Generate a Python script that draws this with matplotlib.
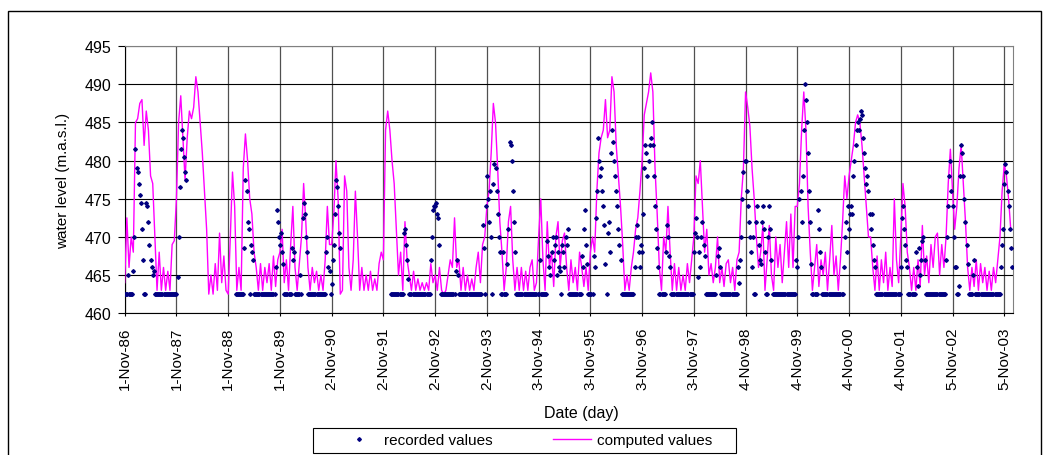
import numpy as np
import matplotlib
matplotlib.use("Agg")
import matplotlib.pyplot as plt
from matplotlib.patches import Rectangle
from matplotlib.lines import Line2D

plt.rcParams['font.family'] = ['Liberation Sans', 'DejaVu Sans']

nan = float('nan')

# tick labels (Excel axis, one tick per hydrological year)
tick_labels = ['1-Nov-86', '1-Nov-87', '1-Nov-88', '1-Nov-89', '2-Nov-90', '2-Nov-91',
               '2-Nov-92', '2-Nov-93', '3-Nov-94', '3-Nov-95', '3-Nov-96', '3-Nov-97',
               '4-Nov-98', '4-Nov-99', '4-Nov-00', '4-Nov-01', '5-Nov-02', '5-Nov-03']

# computed water level, half-monthly, one list per year starting in November
comp_86 = [464, 472.5, 466, 470, 468, 485, 485.5, 487.5, 488, 482, 486.5, 484,
           478, 477, 470, 463, 468, 463, 466, 463, 465.5, 463, 469, 469.5]
comp_87 = [475, 485, 488.5, 483, 477.5, 483, 486.5, 485.5, 487, 491, 489, 485,
           481, 476, 471, 462.5, 465, 462.5, 466.5, 463, 470.5, 464, 467.5, 463]
comp_88 = [462.5, 470, 478.5, 474, 463, 466, 463, 479, 483.5, 480, 475, 473,
           468, 466, 463, 466.5, 463, 466, 464, 466.5, 463, 467.5, 463.5, 467]
comp_89 = [468, 471, 464, 467, 463, 469, 474, 466, 463, 466.5, 470, 477,
           472, 466, 463, 466, 464, 465.5, 463, 465, 463, 467, 474, 469]
comp_90 = [469, 473, 480, 475, 462.5, 463, 478, 476, 466, 463, 467, 476,
           470, 463, 466, 463, 465, 463, 465.5, 463, 464.5, 463, 466.5, 468]
comp_91 = [467, 484, 486.5, 484, 480, 477, 471, 465, 468, 463, 472, 467,
           465, 463, 465.5, 463, 464.5, 463, 464, 463, 464, 463, 466.5, 464]
comp_92 = [465, 463, 466, 463, 462.5, 463, 465, 467, 466, 472.5, 466, 467,
           463, 466, 463, 465, 463, 464.5, 463, 466, 468, 464, 469, 470]
comp_93 = [474, 476, 481, 487.5, 485, 479, 472, 468, 463, 466, 472, 474,
           467, 463, 466, 463, 466, 463, 465.5, 463, 466, 467, 463, 464]
comp_94 = [470, 475, 467, 463, 472, 466, 468, 463.5, 470, 472, 466, 469.5,
           470.5, 466, 463, 467, 464, 466, 463, 468, 466, 463.5, 466, 463]
comp_95 = [468, 470, 468, 476, 481, 483, 484, 488, 483, 484, 491, 489,
           482, 478, 474, 469, 463, 465, 463, 466, 468, 471, 472.5, 476]
comp_96 = [480, 486, 487.5, 489, 491.5, 489, 479, 473, 466, 463, 470, 468,
           474, 468, 463, 466.5, 463, 466, 463, 465, 463, 466.5, 464, 467]
comp_97 = [470, 478, 477, 480, 474, 468, 471, 465, 466.5, 464, 466, 470,
           464, 466, 463.5, 466.5, 467, 464, 466, 463, 467, 468, 475, 479]
comp_98 = [489, 487, 484.5, 479, 475, 470, 466, 468, 471.5, 463, 467, 471.5,
           465, 463, 470, 466, 469, 464, 468, 472, 466, 473, 466, 474]
comp_99 = [474, 477, 484, 489, 484, 474, 468, 463, 466, 469, 463.5, 467,
           465, 468, 463, 467, 471.5, 465, 467.5, 463, 467, 472, 478, 475]
comp_00 = [478, 480, 482, 485, 486, 485, 482, 478, 474, 470, 470, 466,
           463, 467.5, 463, 467, 464, 468, 463, 466, 463.5, 475, 467, 464]
comp_01 = [470, 477, 474, 468, 466, 463, 466, 463, 467, 463.5, 471.5, 465,
           467.5, 464, 469, 466, 470, 470.5, 465, 469, 466, 470, 477, 481.5]
comp_02 = [476, 471, 474, 479, 482, 477, 472, 466, 463, 466, 463.5, 467,
           463, 466.5, 464, 466, 463, 465.5, 463, 466, 464, 467, 470, 476]
comp_03 = [479.5, 478, 475, 471]

# recorded water level, weekly, one list per year starting in November
rec_86 = [462.5, 462.5, 462.5, 465, 462.5, 462.5, 462.5, 462.5, 465.5, 470, 481.5, 479,
          478.5, 477, 475.5, 474.5, 471, 467, 462.5, 462.5, 474.5, 474, 472, 469,
          467, 466, 465, 465.5, 462.5, 462.5, 462.5, 462.5, 462.5, 462.5, 462.5, 462.5,
          462.5, 462.5, 462.5, 462.5, 462.5, 462.5, 462.5, 462.5, 462.5, 462.5, 462.5, 462.5]
rec_87 = [462.5, 464.7, 470, 476.5, 481.5, 484, 483, 480.5, 478.5, 477.5, nan, nan,
          nan, nan, nan, nan, nan, nan, nan, nan, nan, nan, nan, nan,
          nan, nan, nan, nan, nan, nan, nan, nan, nan, nan, nan, nan,
          nan, nan, nan, nan, nan, nan, nan, nan, nan, nan, nan, nan]
rec_88 = [nan, nan, nan, nan, nan, nan, nan, 462.5, 462.5, 462.5, 462.5, 462.5,
          462.5, 462.5, 462.5, 468.5, 477.5, 476, 472, 471, 462.5, 469, 468, 467,
          462.5, 462.5, 462.5, 462.5, 462.5, 462.5, 462.5, 462.5, 462.5, 462.5, 462.5, 462.5,
          462.5, 462.5, 462.5, 462.5, 462.5, 462.5, 462.5, 462.5, 466, 473.5, 472, 470]
rec_89 = [469, 470.5, 468, 466.5, 462.5, 462.5, 462.5, 462.5, 462.5, 462.5, 462.5, 468.5,
          467, 468, 462.5, 462.5, 462.5, 462.5, 462.5, 465, 462.5, 472.5, 474.5, 473,
          470, 468, 462.5, 462.5, 462.5, 462.5, 462.5, 462.5, 462.5, 462.5, 462.5, 462.5,
          462.5, 462.5, 462.5, 462.5, 462.5, 462.5, 462.5, 468, 470, 466, 465.5, 462.5]
rec_90 = [463.8, 467, 469, 473, 477.5, 476.5, 474, 470.5, 468.5, nan, nan, nan,
          nan, nan, nan, nan, nan, nan, nan, nan, nan, nan, nan, nan,
          nan, nan, nan, nan, nan, nan, nan, nan, nan, nan, nan, nan,
          nan, nan, nan, nan, nan, nan, nan, nan, nan, nan, nan, nan]
rec_91 = [nan, nan, nan, nan, nan, nan, nan, 462.5, 462.5, 462.5, 462.5, 462.5,
          462.5, 462.5, 462.5, 462.5, 462.5, 462.5, 462.5, 470.5, 471, 469, 467, 464.5,
          462.5, 462.5, 462.5, 462.5, 462.5, 462.5, 462.5, 462.5, 462.5, 462.5, 462.5, 462.5,
          462.5, 462.5, 462.5, 462.5, 462.5, 462.5, 462.5, 462.5, 467, 470, 473.5, 474]
rec_92 = [474, 474.5, 473, 472.5, 469, 462.5, 462.5, 462.5, 462.5, 462.5, 462.5, 462.5,
          462.5, 462.5, 462.5, 462.5, 462.5, 462.5, 462.5, 465.5, 467, 465, 462.5, 462.5,
          462.5, 462.5, 462.5, 462.5, 462.5, 462.5, 462.5, 462.5, 462.5, 462.5, 462.5, 462.5,
          462.5, 462.5, 462.5, 462.5, 462.5, 462.5, 462.5, 462.5, 471.5, 468.5, 462.5, 474]
rec_93 = [478, 475, 472, 476, 470, 462.5, 477, 479.5, 479, 476, 473, 470,
          468, 462.5, 462.5, 468, 462.5, 462.5, 462.5, 466.5, 471, 482.5, 482, 480,
          476, 472, 468, 462.5, 462.5, 462.5, 462.5, 462.5, 462.5, 462.5, 462.5, 462.5,
          462.5, 462.5, 462.5, 462.5, 462.5, 462.5, 462.5, 462.5, 462.5, 462.5, 462.5, 462.5]
rec_94 = [462.5, 467, 462.5, 462.5, 462.5, 462.5, 462.5, 462.5, 469.5, 467.5, 466, 465,
          468, 470, 467, 469, 470, 465, 468, 466, 465.5, 462.5, 469, 468,
          466, 470, 469, 471, 462.5, 462.5, 462.5, 462.5, 462.5, 462.5, 462.5, 462.5,
          462.5, 462.5, 462.5, 462.5, 467.5, 466, 471, 473.5, 469, 466.5, 462.5, 462.5]
rec_95 = [462.5, 462.5, 462.5, 467.5, 466, 472.5, 476, 483, 480, 478, 479, 476,
          474, 471.5, 466.5, 462.5, 470.5, 472, 468, 481, 484, 482.5, 480, 478,
          476, 474, 471, 469, 467, 462.5, 462.5, 462.5, 462.5, 462.5, 462.5, 462.5,
          462.5, 462.5, 462.5, 462.5, 462.5, 466, 470, 471.5, 470, 468, 466, 469]
rec_96 = [468, 473, 479, 482, 481, 478, 480, 482, 483, 485, 482, 478,
          474, 471, 468.5, 466, 462.5, 462.5, 462.5, 462.5, 462.5, 462.5, 468, 471.5,
          470, 467.5, 466, 462.5, 462.5, 462.5, 462.5, 462.5, 462.5, 462.5, 462.5, 462.5,
          462.5, 462.5, 462.5, 462.5, 462.5, 462.5, 462.5, 462.5, 462.5, 462.5, 462.5, 462.5]
rec_97 = [468, 470.5, 472.5, 470, 464.7, 468, 466, 470, 472, 469, 467.5, 462.5,
          462.5, 462.5, 462.5, 462.5, 462.5, 462.5, 462.5, 462.5, 462.5, 465, 467.5, 468.5,
          466, 462.5, 462.5, 462.5, 462.5, 462.5, 462.5, 462.5, 462.5, 462.5, 462.5, 462.5,
          462.5, 462.5, 462.5, 462.5, 462.5, 466, 464, 467, 470, 475, 478.5, 480]
rec_98 = [480, 476, 474, 472, 470, 468, 466, 470, 462.5, 462.5, 472, 474,
          469, 467, 466.5, 472, 474, 471, 468, 462.5, 462.5, 470, 474, 471,
          467, 462.5, 462.5, 462.5, 462.5, 462.5, 462.5, 462.5, 462.5, 462.5, 462.5, 462.5,
          462.5, 462.5, 462.5, 462.5, 462.5, 462.5, 462.5, 462.5, 462.5, 462.5, 462.5, 467]
rec_99 = [466, 470, 475, 476, 472, 478, 484, 490, 488, 485, 481, 476,
          472, 466.5, 462.5, 462.5, 462.5, 462.5, 462.5, 473.5, 471, 468, 466, 462.5,
          462.5, 462.5, 462.5, 462.5, 462.5, 462.5, 462.5, 462.5, 462.5, 462.5, 462.5, 462.5,
          462.5, 462.5, 462.5, 462.5, 462.5, 462.5, 462.5, 466, 470, 472, 468, 474]
rec_00 = [471, 473, 474, 473, 478, 480, 482, 484, 485, 484, 485.5, 486.5,
          486, 483, 481, 479, 477, 478, 476, 473, 471, 473, 469, 467,
          466, 462.5, 462.5, 462.5, 462.5, 462.5, 462.5, 462.5, 462.5, 462.5, 462.5, 462.5,
          462.5, 462.5, 462.5, 462.5, 462.5, 462.5, 462.5, 462.5, 462.5, 462.5, 462.5, 462.5]
rec_01 = [466, 472.5, 474, 471, 469, 467, 466, 462.5, 462.5, 462.5, 462.5, 462.5,
          462.5, 462.5, 468, 466, 463.5, 468.5, 465, 467, 469.5, 470, 467, 462.5,
          462.5, 462.5, 462.5, 462.5, 462.5, 462.5, 462.5, 462.5, 462.5, 462.5, 462.5, 462.5,
          462.5, 462.5, 462.5, 462.5, 462.5, 462.5, 467, 470, 474, 478, 480, 476]
rec_02 = [474, 470, 466, 466, 462.5, 462.5, 463.5, 478, 482, 481, 478, 475,
          472, 469, 466.5, 462.5, 462.5, 462.5, 462.5, 465, 467, 462.5, 462.5, 462.5,
          462.5, 462.5, 462.5, 462.5, 462.5, 462.5, 462.5, 462.5, 462.5, 462.5, 462.5, 462.5,
          462.5, 462.5, 462.5, 462.5, 462.5, 462.5, 462.5, 462.5, 462.5, 466, 469, 471]
rec_03 = [477, 479.5, 478.5, 476, 474, 471, 468.5, 466]

comp_years = [comp_86, comp_87, comp_88, comp_89, comp_90, comp_91, comp_92, comp_93, comp_94,
              comp_95, comp_96, comp_97, comp_98, comp_99, comp_00, comp_01, comp_02, comp_03]
rec_years = [rec_86, rec_87, rec_88, rec_89, rec_90, rec_91, rec_92, rec_93, rec_94,
             rec_95, rec_96, rec_97, rec_98, rec_99, rec_00, rec_01, rec_02, rec_03]

year_len = 365.5  # days between the Excel ticks

comp_x, comp_y, rec_x, rec_y = [], [], [], []
for k, vals in enumerate(comp_years):
    for i, v in enumerate(vals):
        comp_x.append(k * year_len + i * year_len / 24)
        comp_y.append(v)
for k, vals in enumerate(rec_years):
    for i, v in enumerate(vals):
        rec_x.append(k * year_len + i * year_len / 48)
        rec_y.append(v)

W, H = 1050, 456
fig = plt.figure(figsize=(W / 100, H / 100), dpi=100)
ax = fig.add_axes([124.7 / W, 1 - 314.2 / H, 888 / W, 267 / H])

ax.plot(comp_x, comp_y, color='#FF00FF', lw=1.0, zorder=3)
ax.plot(rec_x, rec_y, ls='none', marker='D', ms=1.9, color='#000080', mec='#000080', zorder=4)

ax.set_xlim(0, 6273)
ax.set_ylim(460, 495)
ax.set_yticks(np.arange(460, 496, 5))
ax.set_xticks([k * year_len for k in range(len(tick_labels))])
ax.set_xticklabels(tick_labels, rotation=90, fontsize=11)
ax.tick_params(axis='y', labelsize=11.5, length=4.8, pad=5, direction='out')
ax.tick_params(axis='x', length=2.5, pad=7, direction='out')

ax.set_axisbelow(True)
ax.grid(axis='y', color='black', lw=0.8)
ax.grid(axis='x', color='#505050', lw=0.9)
for side in ['top', 'right']:
    ax.spines[side].set_color('#808080')
for side in ['left', 'bottom']:
    ax.spines[side].set_color('black')

ax.set_ylabel('water level (m.a.s.l.)', fontsize=11)
ax.yaxis.set_label_coords((70 - 124.7) / 888, 0.5)
ax.set_xlabel('Date (day)', fontsize=11.5)
ax.xaxis.set_label_coords((581 - 124.7) / 888, (314.2 - 406) / 267)

# legend with a square frame drawn separately
handles = [Line2D([], [], ls='none', marker='D', ms=1.9, color='#000080'),
           Line2D([], [], color='#FF00FF', lw=1.0)]
fig.legend(handles, ['recorded values', 'computed values'], loc='center',
           bbox_to_anchor=(526 / W, 1 - 441.5 / H), ncol=2, frameon=False,
           fontsize=11, handlelength=2.5, handletextpad=0.35, columnspacing=4.0,
           borderpad=0)
fig.add_artist(Rectangle((313 / W, 1 - 454 / H), 423 / W, 25 / H,
                         transform=fig.transFigure, fill=False, ec='black', lw=0.8))

# outer chart border
fig.add_artist(Rectangle((8 / W, -0.1), 1033 / W, 1 - 12 / H + 0.1,
                         transform=fig.transFigure, fill=False, ec='black', lw=1))

fig.savefig('out.png', dpi=100)
